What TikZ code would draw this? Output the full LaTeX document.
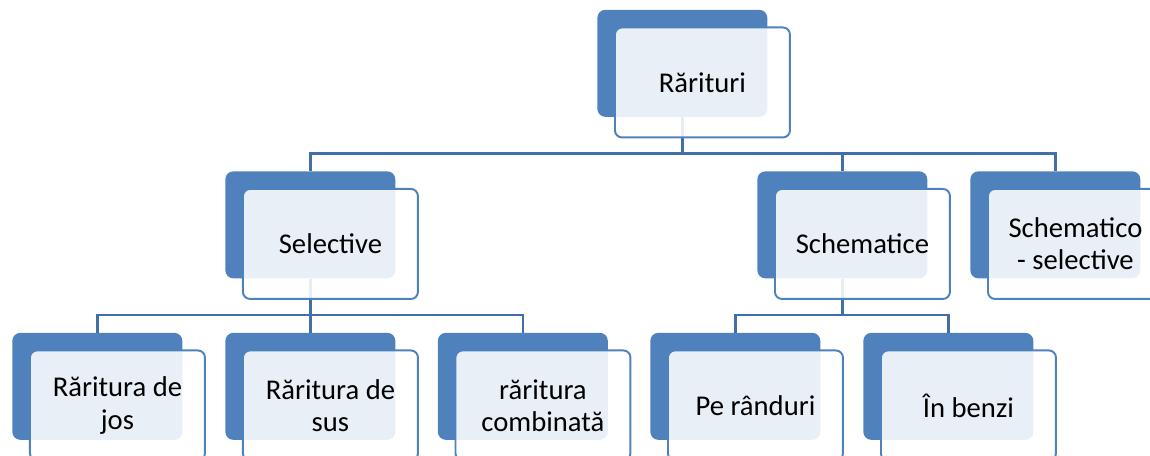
\documentclass[tikz,border=0pt]{standalone}
\usepackage{fontspec}
\setmainfont{Carlito}
\usetikzlibrary{positioning,backgrounds}

\definecolor{boxblue}{HTML}{4F81BD}
\definecolor{lineblue}{HTML}{416FA8}

\begin{document}
\begin{tikzpicture}[
	x=0.02cm, y=-0.02cm,
	backbox/.style = {
		fill=boxblue, rounded corners=0.16cm, inner sep=0pt,
		minimum width=3.4cm, minimum height=2.14cm, anchor=north west},
	frontbox/.style = {
		draw=boxblue, line width=1.1pt, fill=white, fill opacity=0.88,
		text opacity=1, rounded corners=0.14cm, inner sep=0pt,
		minimum width=3.5cm, minimum height=2.2cm, align=center,
		font=\fontsize{16.3}{18.3}\selectfont},
	conn/.style = {draw=lineblue, line width=1.4pt}
]
\useasboundingbox (0,0) rectangle (1150,456);

% back boxes
\node (rar-b)    [backbox] at (597,9.5) {};
\node (sel-b)    [backbox] at (225,171) {};
\node (sch-b)    [backbox] at (757,171) {};
\node (schsel-b) [backbox] at (970,171) {};
\node (jos-b)    [backbox] at (12,332.5) {};
\node (sus-b)    [backbox] at (225,332.5) {};
\node (comb-b)   [backbox] at (437.5,332.5) {};
\node (rand-b)   [backbox] at (650,332.5) {};
\node (benzi-b)  [backbox] at (863,332.5) {};

% front boxes with the text
\node (rar)    [frontbox, below right=0.34cm and 0.34cm of rar-b.north west]    {Rărituri};
\node (sel)    [frontbox, below right=0.34cm and 0.34cm of sel-b.north west]    {Selective};
\node (sch)    [frontbox, below right=0.34cm and 0.34cm of sch-b.north west]    {Schematice};
\node (schsel) [frontbox, below right=0.34cm and 0.34cm of schsel-b.north west] {Schematico\\- selective};
\node (jos)    [frontbox, below right=0.34cm and 0.34cm of jos-b.north west]    {Răritura de\\jos};
\node (sus)    [frontbox, below right=0.34cm and 0.34cm of sus-b.north west]    {Răritura de\\sus};
\node (comb)   [frontbox, below right=0.34cm and 0.34cm of comb-b.north west]   {răritura\\combinată};
\node (rand)   [frontbox, below right=0.34cm and 0.34cm of rand-b.north west]   {Pe rânduri};
\node (benzi)  [frontbox, below right=0.34cm and 0.34cm of benzi-b.north west]  {În benzi};

\begin{pgfonlayer}{background}
\draw[conn] (rar-b.south) -- ++(0,36.5) -| (sel-b.north);
\draw[conn] (rar-b.south) -- ++(0,36.5) -| (sch-b.north);
\draw[conn] (rar-b.south) -- ++(0,36.5) -| (schsel-b.north);
\draw[conn] (sel-b.south) -- ++(0,36.5) -| (jos-b.north);
\draw[conn] (sel-b.south) -- (sus-b.north);
\draw[conn] (sel-b.south) -- ++(0,36.5) -| (comb-b.north);
\draw[conn] (sch-b.south) -- ++(0,36.5) -| (rand-b.north);
\draw[conn] (sch-b.south) -- ++(0,36.5) -| (benzi-b.north);
\end{pgfonlayer}
\end{tikzpicture}
\end{document}
